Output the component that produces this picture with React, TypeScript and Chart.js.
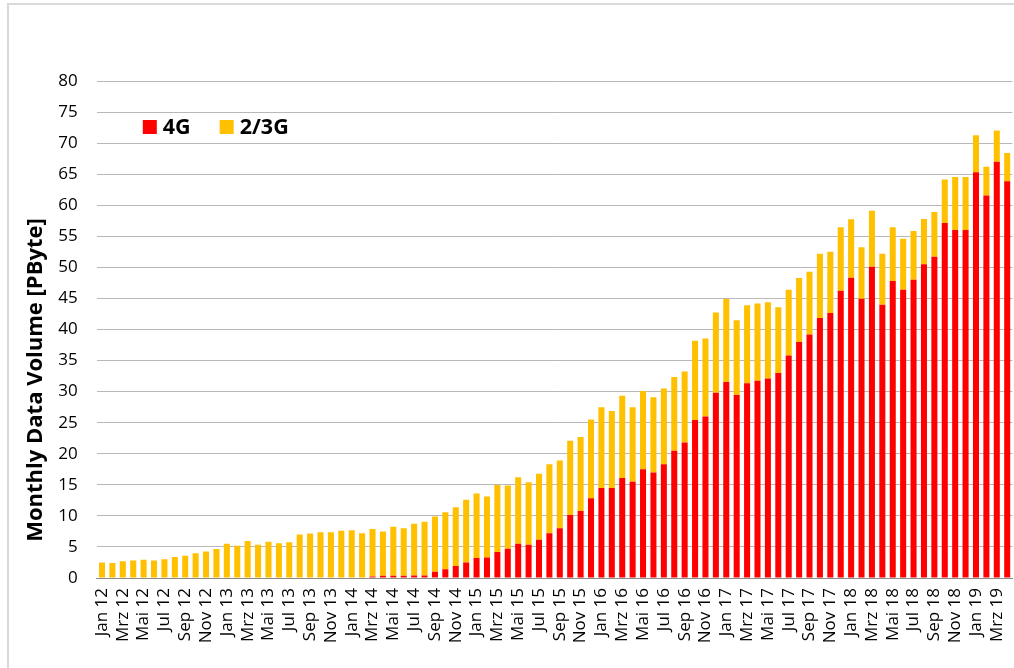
import React, { useEffect, useRef } from "react";
import { Chart, registerables } from "chart.js";

Chart.register(...registerables);

const MONTHS = ["Jan", "Feb", "Mrz", "Apr", "Mai", "Jun", "Jul", "Aug", "Sep", "Okt", "Nov", "Dez"];
const YEARS = ["12", "13", "14", "15", "16", "17", "18", "19"];
const CATEGORIES: string[] = YEARS.flatMap((y) => MONTHS.map((m) => `${m} ${y}`)).slice(0, 88);

const SERIES_NAMES = ["4G", "2/3G"];
const SERIES_COLORS = ["#FF0000", "#FFC000"];

const FOUR_G = [
  0, 0, 0, 0, 0, 0, 0, 0, 0, 0, 0, 0,
  0, 0, 0, 0, 0, 0, 0, 0, 0, 0, 0, 0,
  0, 0, 0.25, 0.35, 0.35, 0.35, 0.4, 0.4, 1.0, 1.4, 1.95, 2.5,
  3.2, 3.3, 4.2, 4.7, 5.5, 5.35, 6.15, 7.2, 8.0, 10.15, 10.8, 12.85,
  14.5, 14.5, 16.1, 15.5, 17.5, 17.0, 18.3, 20.5, 21.8, 25.45, 26.0, 29.8,
  31.55, 29.45, 31.35, 31.75, 32.1, 33.0, 35.8, 38.0, 39.2, 41.85, 42.65, 46.25,
  48.35, 44.95, 50.1, 44.0, 47.8, 46.4, 48.0, 50.5, 51.7, 57.15, 56.0, 56.0,
  65.3, 61.55, 67.0, 63.85,
];

const TWO_THREE_G = [
  2.5, 2.4, 2.7, 2.8, 2.95, 2.8, 3.0, 3.4, 3.6, 4.0, 4.25, 4.65,
  5.5, 5.2, 5.95, 5.35, 5.85, 5.6, 5.75, 7.0, 7.15, 7.35, 7.35, 7.6,
  7.7, 7.2, 7.65, 7.15, 7.9, 7.65, 8.35, 8.65, 8.9, 9.2, 9.45, 10.1,
  10.4, 9.8, 10.75, 10.2, 10.7, 10.05, 10.65, 11.1, 10.9, 11.95, 11.9, 12.65,
  13.0, 12.4, 13.25, 12.0, 12.6, 12.1, 12.2, 11.85, 11.45, 12.75, 12.55, 12.95,
  13.35, 12.05, 12.55, 12.45, 12.3, 10.6, 10.6, 10.3, 10.1, 10.35, 9.85, 10.2,
  9.4, 8.3, 9.0, 8.2, 8.65, 8.2, 7.85, 7.3, 7.2, 7.0, 8.55, 8.55,
  5.95, 4.65, 5.05, 4.55,
];

const Y_MIN = 0;
const Y_MAX = 80;
const Y_STEP = 5;
const Y_TITLE = "Monthly Data Volume [PByte]";

const FONT = "'Open Sans', 'Noto Sans', sans-serif";

const insideLegend = {
  id: "insideLegend",
  afterDraw(chart: any) {
    const { ctx, chartArea } = chart;
    ctx.save();
    ctx.font = `bold 21.5px ${FONT}`;
    ctx.textBaseline = "middle";
    ctx.textAlign = "left";
    let x = chartArea.left + 46;
    const y = chartArea.top + 46;
    chart.data.datasets.forEach((ds: any) => {
      ctx.fillStyle = ds.backgroundColor;
      ctx.fillRect(x, y - 7, 14, 14);
      ctx.fillStyle = "#000";
      ctx.fillText(ds.label, x + 20, y + 1);
      x += 20 + ctx.measureText(ds.label).width + 29;
    });
    ctx.restore();
  },
};

const axisTitle = {
  id: "axisTitle",
  afterDraw(chart: any) {
    const { ctx } = chart;
    ctx.save();
    ctx.translate(36, 380);
    ctx.rotate(-Math.PI / 2);
    ctx.font = `bold 22px ${FONT}`;
    ctx.fillStyle = "#000";
    ctx.textAlign = "center";
    ctx.textBaseline = "middle";
    ctx.fillText(Y_TITLE, 0, 0);
    ctx.restore();
  },
};

export default function App() {
  const canvasRef = useRef<HTMLCanvasElement>(null);

  useEffect(() => {
    if (!canvasRef.current) return;
    const chart = new Chart(canvasRef.current, {
      type: "bar",
      data: {
        labels: CATEGORIES,
        datasets: [
          {
            label: SERIES_NAMES[0],
            data: FOUR_G,
            backgroundColor: SERIES_COLORS[0],
            barPercentage: 0.58,
            categoryPercentage: 1.0,
          },
          {
            label: SERIES_NAMES[1],
            data: TWO_THREE_G,
            backgroundColor: SERIES_COLORS[1],
            barPercentage: 0.58,
            categoryPercentage: 1.0,
          },
        ],
      },
      options: {
        animation: false,
        responsive: true,
        maintainAspectRatio: false,
        layout: { padding: { top: 81, left: 0, right: 1.6, bottom: 10 } },
        plugins: {
          legend: { display: false },
          tooltip: { enabled: false },
        },
        scales: {
          x: {
            stacked: true,
            grid: { display: false, drawTicks: false },
            border: { display: true, color: "#8c8c8c", width: 1 },
            ticks: {
              autoSkip: false,
              maxRotation: 90,
              minRotation: 90,
              padding: 10,
              color: "#000",
              font: { family: FONT, size: 17 },
              callback: (_v: any, i: number) => (i % 2 === 0 ? CATEGORIES[i] : ""),
            },
            afterFit: (scale: any) => {
              scale.height = 80;
              scale.paddingLeft = 0;
              scale.paddingRight = 0;
            },
          },
          y: {
            stacked: true,
            min: Y_MIN,
            max: Y_MAX,
            grid: { color: "#b8b8b8", drawTicks: false, lineWidth: 1 },
            border: { display: false },
            ticks: {
              stepSize: Y_STEP,
              padding: 19,
              color: "#000",
              font: { family: FONT, size: 17 },
            },
            afterFit: (scale: any) => {
              scale.width = 96.8;
            },
          },
        },
      },
      plugins: [insideLegend, axisTitle],
    });
    return () => chart.destroy();
  }, []);

  return (
    <div
      style={{
        position: "absolute",
        left: 0,
        top: 0,
        width: 1014,
        height: 668,
        overflow: "hidden",
        background: "#fff",
      }}
    >
      <div
        style={{
          position: "absolute",
          left: 7,
          top: 3,
          width: 1100,
          height: 800,
          border: "2px solid #d9d9d9",
        }}
      />
      <div style={{ position: "absolute", left: 0, top: 0, width: 1014, height: 668 }}>
        <canvas ref={canvasRef} />
      </div>
    </div>
  );
}
